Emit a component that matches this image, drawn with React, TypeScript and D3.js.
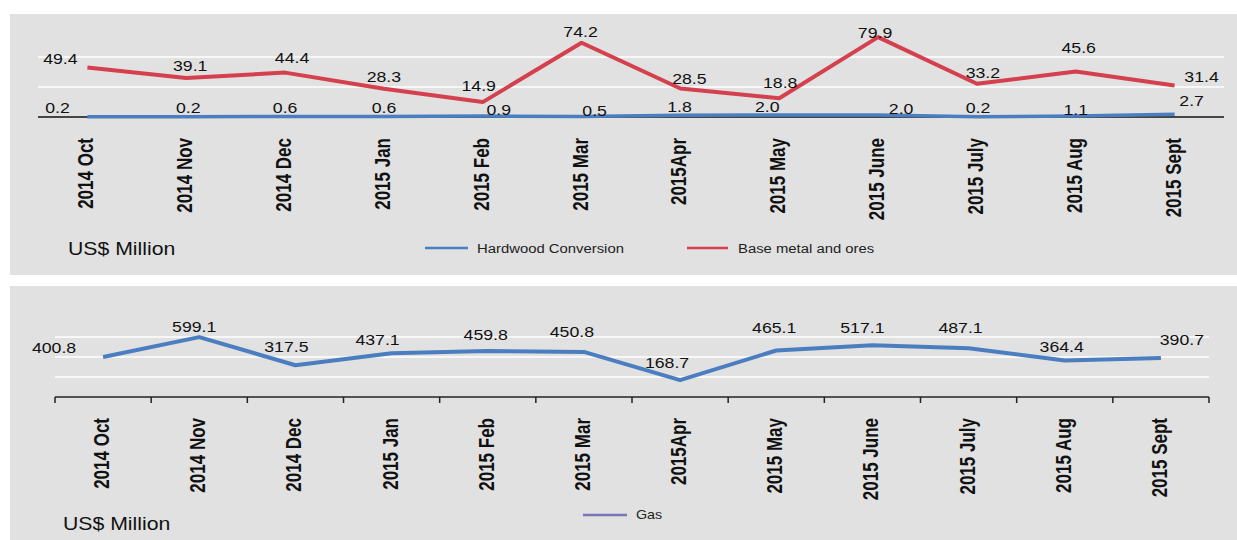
import React from "react";
import * as d3 from "d3";

const months = [
  "2014 Oct", "2014 Nov", "2014 Dec", "2015 Jan", "2015 Feb", "2015 Mar",
  "2015Apr", "2015 May", "2015 June", "2015 July", "2015 Aug", "2015 Sept",
];
const hardwood = [0.2, 0.2, 0.6, 0.6, 0.9, 0.5, 1.8, 2.0, 2.0, 0.2, 1.1, 2.7];
const baseMetal = [49.4, 39.1, 44.4, 28.3, 14.9, 74.2, 28.5, 18.8, 79.9, 33.2, 45.6, 31.4];
const gas = [400.8, 599.1, 317.5, 437.1, 459.8, 450.8, 168.7, 465.1, 517.1, 487.1, 364.4, 390.7];
const topGrid = [30, 60];
const bottomGrid = [200, 400, 600];

// label offsets (layout only): [dx, dy] relative to point
const redOff: [number, number][] = [
  [-27, -4], [4, -7], [7, -10], [0, -7], [-4, -11], [-1, -6],
  [9, -5], [1, -10], [-3, 1], [6, -6], [3, -18], [27, -4],
];
const blueOff: [number, number][] = [
  [-30, -4], [2, -4], [0, -3], [0, -3], [16, -1], [13, -1],
  [-1, -3], [-12, -3], [23, -1], [1, -4], [0, -1], [17, -8],
];
const gasOff: [number, number][] = [
  [-49, -4], [-5, -5], [-9, -13], [-14, -8], [-2, -11], [-12, -15],
  [-13, -12], [-2, -17], [-10, -12], [-8, -15], [-3, -9], [21, -13],
];

const RED = "#d4404d";
const BLUE = "#4a7ec0";
const BG = "#e1e1e1";
const FONT = "Arial, 'Liberation Sans', Helvetica, sans-serif";
const SX = 1.18;

function Txt({ x, y, size, bold, children, anchor = "middle", fill = "#111", sx = SX }: any) {
  return (
    <text
      transform={`translate(${x},${y}) scale(${sx},1)`}
      fontSize={size}
      fontWeight={bold ? "bold" : "normal"}
      textAnchor={anchor}
      fill={fill}
      fontFamily={FONT}
    >
      {children}
    </text>
  );
}

function CatLabels({ x, yTop }: { x: d3.ScaleBand<string>; yTop: number }) {
  return (
    <g>
      {months.map((m) => (
        <text
          key={m}
          transform={`translate(${(x(m) ?? 0) + x.bandwidth() / 2 + 6},${yTop}) scale(1.25,1) rotate(-90)`}
          fontSize={17}
          fontWeight="bold"
          textAnchor="end"
          fill="#111"
          fontFamily={FONT}
        >
          {m}
        </text>
      ))}
    </g>
  );
}

export default function App() {
  const W = 1237;
  const H = 540;

  // top panel
  const xT = d3.scaleBand<string>().domain(months).range([38, 1224]);
  const yT = d3.scaleLinear().domain([0, 90]).range([117, 27]);
  const cxT = (i: number) => (xT(months[i]) ?? 0) + xT.bandwidth() / 2;
  const lineT = d3.line<number>().x((_, i) => cxT(i)).y((v) => yT(v));

  // bottom panel
  const xB = d3.scaleBand<string>().domain(months).range([55, 1209]);
  const yB = d3.scaleLinear().domain([0, 800]).range([397, 317]);
  const cxB = (i: number) => (xB(months[i]) ?? 0) + xB.bandwidth() / 2;
  const lineB = d3.line<number>().x((_, i) => cxB(i)).y((v) => yB(v));
  const tickXs = months.map((m) => xB(m) ?? 0).concat([1209]);

  return (
    <svg
      width={W}
      height={H}
      style={{ position: "absolute", left: 0, top: 0, background: "#fff" }}
    >
      {/* top panel */}
      <rect x={10} y={14} width={W - 10} height={261} fill={BG} />
      {topGrid.map((g) => (
        <line key={g} x1={38} x2={1224} y1={yT(g)} y2={yT(g)} stroke="#f7f7f7" strokeWidth={2} />
      ))}
      <line x1={38} x2={1224} y1={yT(0)} y2={yT(0)} stroke="#111" strokeWidth={1.5} />
      <path d={lineT(hardwood) ?? ""} fill="none" stroke={BLUE} strokeWidth={3.5} />
      <path d={lineT(baseMetal) ?? ""} fill="none" stroke={RED} strokeWidth={4} strokeLinejoin="round" />
      {baseMetal.map((v, i) => (
        <Txt key={"r" + i} x={cxT(i) + redOff[i][0]} y={yT(v) + redOff[i][1]} size={15}>
          {v.toFixed(1)}
        </Txt>
      ))}
      {hardwood.map((v, i) => (
        <Txt key={"b" + i} x={cxT(i) + blueOff[i][0]} y={yT(v) + blueOff[i][1]} size={15}>
          {v.toFixed(1)}
        </Txt>
      ))}
      <CatLabels x={xT} yTop={138} />
      <Txt x={68} y={255} size={18} anchor="start">US$ Million</Txt>
      <line x1={425} x2={468} y1={248} y2={248} stroke={BLUE} strokeWidth={2.5} />
      <Txt x={477} y={253} size={13.5} anchor="start" fill="#222" sx={1.1}>Hardwood Conversion</Txt>
      <line x1={687} x2={728} y1={248} y2={248} stroke={RED} strokeWidth={2.5} />
      <Txt x={738} y={253} size={13.5} anchor="start" fill="#222" sx={1.1}>Base metal and ores</Txt>

      {/* bottom panel */}
      <rect x={10} y={286} width={W - 10} height={H - 286} fill={BG} />
      {bottomGrid.map((g) => (
        <line key={g} x1={55} x2={1209} y1={yB(g)} y2={yB(g)} stroke="#f7f7f7" strokeWidth={2} />
      ))}
      <line x1={55} x2={1209} y1={yB(0)} y2={yB(0)} stroke="#222" strokeWidth={1.5} />
      {tickXs.map((t, i) => (
        <line key={i} x1={t} x2={t} y1={yB(0)} y2={yB(0) + 6} stroke="#222" strokeWidth={1.5} />
      ))}
      <path d={lineB(gas) ?? ""} fill="none" stroke={BLUE} strokeWidth={4} strokeLinejoin="round" />
      {gas.map((v, i) => (
        <Txt key={"g" + i} x={cxB(i) + gasOff[i][0]} y={yB(v) + gasOff[i][1]} size={15}>
          {v.toFixed(1)}
        </Txt>
      ))}
      <CatLabels x={xB} yTop={418} />
      <Txt x={63} y={530} size={18} anchor="start">US$ Million</Txt>
      <line x1={583} x2={627} y1={515} y2={515} stroke="#7b76b8" strokeWidth={2.5} />
      <Txt x={636} y={519} size={13} anchor="start" fill="#222" sx={1.1}>Gas</Txt>
    </svg>
  );
}
